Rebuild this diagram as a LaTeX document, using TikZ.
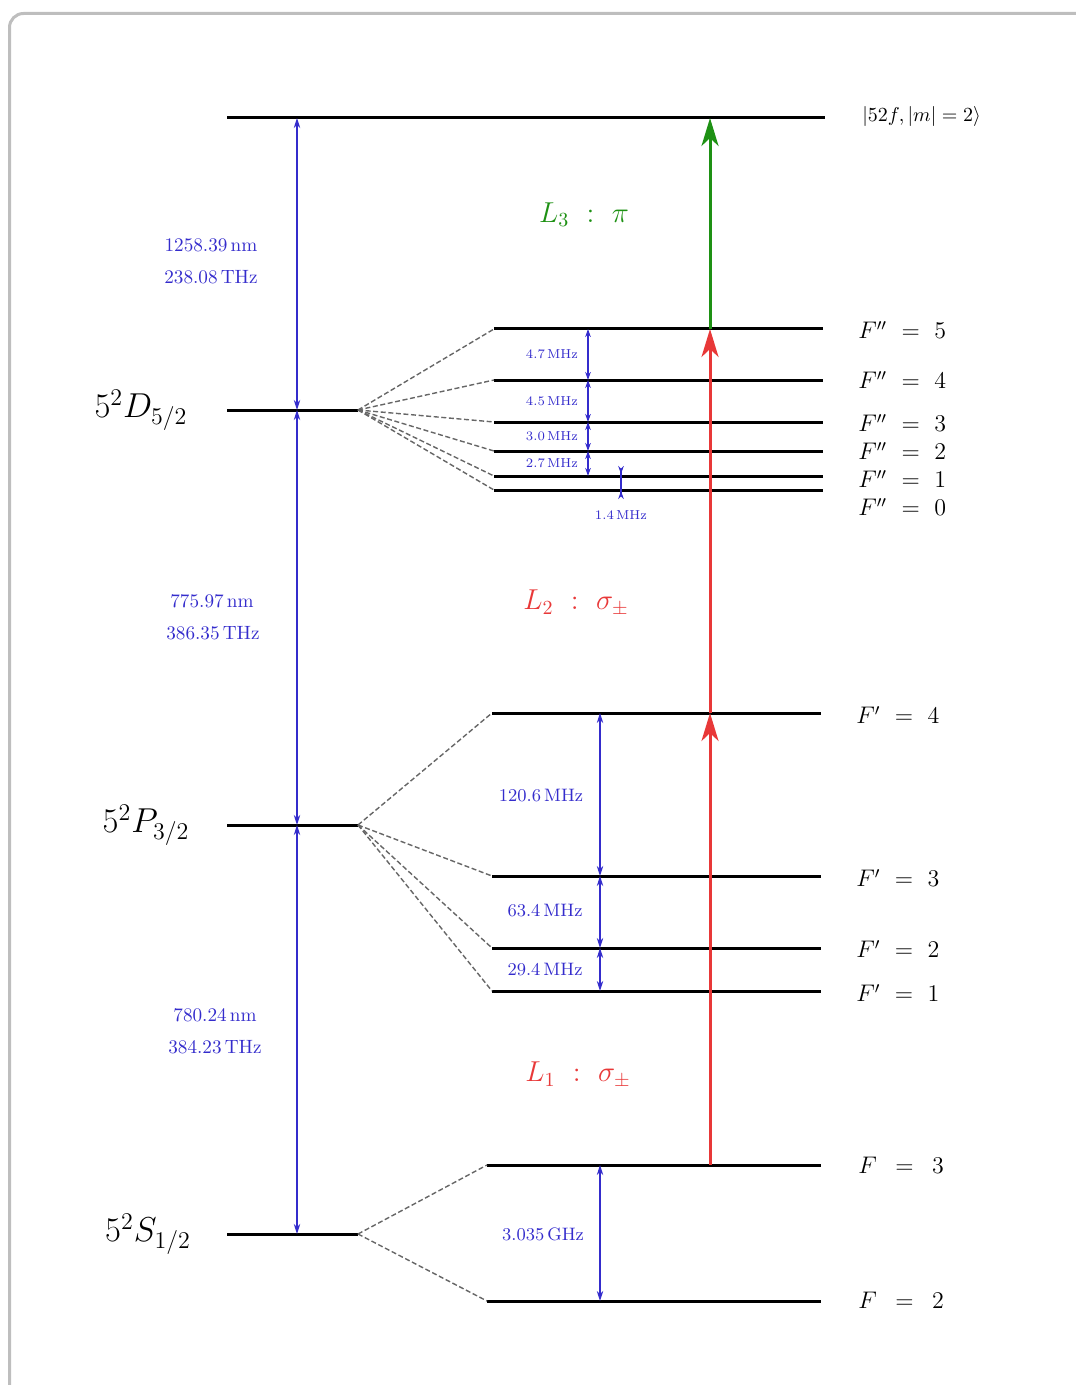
\documentclass[tikz,border=0pt]{standalone}
\usetikzlibrary{arrows.meta}
\definecolor{lvlblue}{RGB}{52,44,204}
\definecolor{lasred}{RGB}{232,56,56}
\definecolor{lasgreen}{RGB}{30,145,20}
\definecolor{framegray}{RGB}{190,190,190}
\begin{document}
\begin{tikzpicture}[x=0.5pt,y=-0.5pt,
  lvl/.style={line width=1.5pt},
  split/.style={draw=black!60, line width=0.7pt, dash pattern=on 2.5pt off 1.3pt},
  gap/.style={draw=lvlblue, line width=0.6pt, {Stealth[length=5pt,width=3.2pt]}-{Stealth[length=5pt,width=3.2pt]}},
  sgap/.style={draw=lvlblue, line width=0.6pt, {Stealth[length=4pt,width=2.8pt]}-{Stealth[length=4pt,width=2.8pt]}},
  igap/.style={draw=lvlblue, line width=0.6pt, {Stealth[length=4pt,width=2.8pt,reversed]}-{Stealth[length=4pt,width=2.8pt,reversed]}},
  laser/.style={line width=1.5pt, -{Stealth[length=14pt,width=8.5pt,inset=4pt]}},
  btxt/.style={text=lvlblue, font=\fontsize{9.6}{11}\selectfont, inner sep=0pt},
  stxt/.style={text=lvlblue, font=\fontsize{6.5}{8}\selectfont, inner sep=0pt},
  mtxt/.style={text=lvlblue, font=\small, inner sep=0pt},
  state/.style={font=\LARGE, inner sep=0pt},
  flab/.style={font=\large, anchor=west, inner sep=0pt}]
\useasboundingbox (0,0) rectangle (1075,1385);
\draw[framegray, line width=1.5pt, rounded corners=7pt] (9.5,13.5) rectangle (1110,1420);

% fine-structure levels
\coordinate (Tl) at (227,118);  \coordinate (Tr) at (825,118);
\coordinate (Dl) at (227,410);  \coordinate (Dr) at (358,410);
\coordinate (Pl) at (227,825);  \coordinate (Pr) at (358,825);
\coordinate (Sl) at (227,1234); \coordinate (Sr) at (358,1234);
\draw[lvl] (Tl) -- (Tr);
\draw[lvl] (Dl) -- (Dr);
\draw[lvl] (Pl) -- (Pr);
\draw[lvl] (Sl) -- (Sr);

% D hyperfine
\foreach \n/\y in {5/329,4/380,3/422,2/451,1/476,0/490}{
  \coordinate (D\n l) at (494,\y); \coordinate (D\n r) at (823,\y);
  \draw[lvl] (D\n l) -- (D\n r);
  \draw[split] (Dr) -- (D\n l);
}
% P hyperfine
\foreach \n/\y in {4/713,3/876,2/948,1/991}{
  \coordinate (P\n l) at (492,\y); \coordinate (P\n r) at (821,\y);
  \draw[lvl] (P\n l) -- (P\n r);
  \draw[split] (Pr) -- (P\n l);
}
% S hyperfine
\foreach \n/\y in {3/1165,2/1301}{
  \coordinate (S\n l) at (487,\y); \coordinate (S\n r) at (821,\y);
  \draw[lvl] (S\n l) -- (S\n r);
  \draw[split] (Sr) -- (S\n l);
}

% labels of states
\node[state] (nD) at (141,410) {$5^2D_{5/2}$};
\node[state] (nP) at (146,825) {$5^2P_{3/2}$};
\node[state] (nS) at (148,1234) {$5^2S_{1/2}$};
\node[anchor=west, inner sep=0pt, font=\fontsize{10.3}{12}\selectfont] (nT) at (862,117) {$|52f, |m| = 2\rangle$};

\node[flab] (f5) at (858,330) {$F''\ =\ 5$};
\node[flab] (f4) at (858,380) {$F''\ =\ 4$};
\node[flab] (f3) at (858,423) {$F''\ =\ 3$};
\node[flab] (f2) at (858,451) {$F''\ =\ 2$};
\node[flab] (f1) at (858,479) {$F''\ =\ 1$};
\node[flab] (f0) at (858,507) {$F''\ =\ 0$};
\node[flab] (p4) at (856,715) {$F'\ =\ 4$};
\node[flab] (p3) at (856,878) {$F'\ =\ 3$};
\node[flab] (p2) at (856,949) {$F'\ =\ 2$};
\node[flab] (p1) at (856,993) {$F'\ =\ 1$};
\node[flab] (s3) at (858,1165) {$F\ \,=\ \,3$};
\node[flab] (s2) at (858,1300) {$F\ \,=\ \,2$};

% fine-structure gaps
\coordinate (gT) at (297,118); \coordinate (gD) at (297,410);
\coordinate (gP) at (297,825); \coordinate (gS) at (297,1234);
\draw[gap] (gT) -- (gD);
\draw[gap] (gD) -- (gP);
\draw[gap] (gP) -- (gS);
\node[btxt] (w1) at (211,245) {1258.39\,nm};
\node[btxt] (v1) at (211,277) {238.08\,THz};
\node[btxt] (w2) at (212,601) {775.97\,nm};
\node[btxt] (v2) at (213,633) {386.35\,THz};
\node[btxt] (w3) at (215,1015) {780.24\,nm};
\node[btxt] (v3) at (215,1047) {384.23\,THz};

% D hyperfine gaps
\foreach \n/\y in {5/329,4/380,3/422,2/451,1/476}{
  \coordinate (hD\n) at (588,\y);
}
\draw[sgap] (hD5) -- (hD4);
\draw[sgap] (hD4) -- (hD3);
\draw[sgap] (hD3) -- (hD2);
\draw[sgap] (hD2) -- (hD1);
\node[stxt] at (552,354) {4.7\,MHz};
\node[stxt] at (552,401) {4.5\,MHz};
\node[stxt] at (552,436) {3.0\,MHz};
\node[stxt] at (552,463) {2.7\,MHz};
\coordinate (iA) at (621,466); \coordinate (iB) at (621,499);
\draw[igap] (iA) -- (iB);
\node[stxt] at (621,515) {1.4\,MHz};

% P hyperfine gaps
\coordinate (hP4) at (600,713); \coordinate (hP3) at (600,876);
\coordinate (hP2) at (600,948); \coordinate (hP1) at (600,991);
\draw[gap] (hP4) -- (hP3);
\draw[gap] (hP3) -- (hP2);
\draw[gap] (hP2) -- (hP1);
\node[mtxt] at (541,796) {120.6\,MHz};
\node[mtxt] at (545,911) {63.4\,MHz};
\node[mtxt] at (545,970) {29.4\,MHz};

% S hyperfine gap
\coordinate (hS3) at (600,1165); \coordinate (hS2) at (600,1301);
\draw[gap] (hS3) -- (hS2);
\node[mtxt] at (543,1234) {3.035\,GHz};

% lasers
\coordinate (a0) at (710,1165); \coordinate (a1) at (710,713);
\coordinate (a2) at (710,329);  \coordinate (a3) at (710,118);
\draw[laser, lasred] (a0) -- (a1);
\draw[laser, lasred] (a1) -- (a2);
\draw[laser, lasgreen] (a2) -- (a3);
\node[text=lasgreen, font=\Large] (L3) at (584,215) {$L_3\ :\ \pi$};
\node[text=lasred, font=\Large] (L2) at (576,603) {$L_2\ :\ \sigma_{\pm}$};
\node[text=lasred, font=\Large] (L1) at (578,1075) {$L_1\ :\ \sigma_{\pm}$};
\end{tikzpicture}
\end{document}
